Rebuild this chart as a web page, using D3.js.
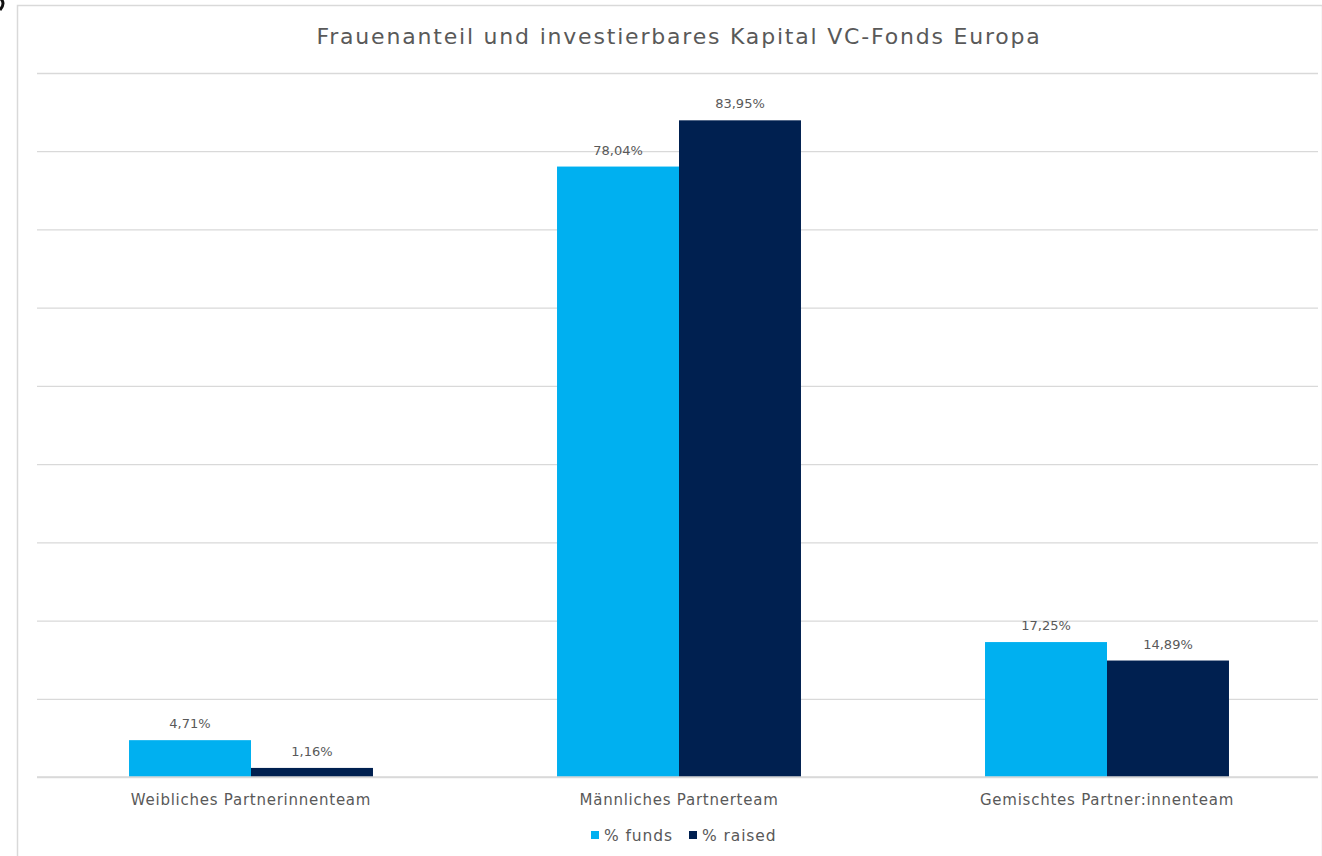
<!DOCTYPE html>
<html>
<head>
<meta charset="utf-8">
<script src="https://cdn.jsdelivr.net/npm/d3@7"></script>
<style>
  html, body { margin: 0; padding: 0; background: #ffffff; }
  svg { display: block; }
</style>
</head>
<body>
<script>
const title = "Frauenanteil und investierbares Kapital VC-Fonds Europa";
const categories = ["Weibliches Partnerinnenteam", "Männliches Partnerteam", "Gemischtes Partner:innenteam"];
const seriesNames = ["% funds", "% raised"];
const funds = [4.71, 78.04, 17.25];
const raised = [1.16, 83.95, 14.89];
const yTicks = [0, 10, 20, 30, 40, 50, 60, 70, 80, 90];
const colors = ["#00B0F0", "#002050"];

const W = 1322, H = 856;
const svg = d3.select("body").append("svg").attr("width", W).attr("height", H);

// chart frame
svg.append("rect").attr("x", 17.5).attr("y", 5.5).attr("width", W - 17).attr("height", H)
  .attr("fill", "#fff").attr("stroke", "#d9d9d9").attr("stroke-width", 1.5);

// small dark artifact at top-left corner
svg.append("path").attr("d", "M0,-2 Q6,3 0,10").attr("fill", "none").attr("stroke", "#111").attr("stroke-width", 3);

const font = "'DejaVu Sans', Verdana, sans-serif";
const textColor = "#595959";

svg.append("text").attr("x", 679).attr("y", 44).attr("text-anchor", "middle")
  .attr("font-family", font).attr("font-size", 22).attr("letter-spacing", 1.8)
  .attr("fill", textColor).text(title);

const x0 = d3.scaleBand().domain(categories).range([37, 1321]).padding(0);
const groupW = x0.bandwidth() * 0.57;
const x1 = d3.scaleBand().domain(seriesNames).range([0, groupW]).padding(0);
const y = d3.scaleLinear().domain([0, 90]).range([777, 73]);

// gridlines
const grid = d3.axisLeft(y).tickValues(yTicks).tickSize(-(1318 - 37)).tickFormat("");
const gg = svg.append("g").attr("transform", "translate(37,0)").call(grid);
gg.select(".domain").remove();
gg.selectAll(".tick line").attr("stroke", "#d9d9d9").attr("stroke-width", 1.3);

const data = categories.map((c, i) => ({ cat: c, vals: [funds[i], raised[i]] }));
const fmt = v => v.toFixed(2).replace(".", ",") + "%";

const groups = svg.selectAll("g.grp").data(data).enter().append("g").attr("class", "grp")
  .attr("transform", d => `translate(${x0(d.cat) + (x0.bandwidth() - groupW) / 2},0)`);

groups.selectAll("rect").data(d => d.vals.map((v, j) => ({ s: seriesNames[j], v, j })))
  .enter().append("rect")
  .attr("x", d => x1(d.s)).attr("width", x1.bandwidth())
  .attr("y", d => y(d.v)).attr("height", d => y(0) - y(d.v))
  .attr("fill", d => colors[d.j]);

groups.selectAll("text").data(d => d.vals.map((v, j) => ({ s: seriesNames[j], v, j })))
  .enter().append("text")
  .attr("x", d => x1(d.s) + x1.bandwidth() / 2).attr("y", d => y(d.v) - 12)
  .attr("text-anchor", "middle").attr("font-family", font).attr("font-size", 13)
  .attr("fill", textColor).text(d => fmt(d.v));

// x axis labels
const xa = svg.append("g").attr("transform", "translate(0,777)")
  .call(d3.axisBottom(x0).tickSize(0).tickPadding(17));
xa.select(".domain").attr("stroke", "#d9d9d9").attr("stroke-width", 1.3).attr("d", "M37,0H1318");
xa.selectAll("text").attr("font-family", font).attr("font-size", 15).attr("letter-spacing", 0.75)
  .attr("fill", textColor).attr("dy", "0.71em");

// legend
const legendItems = [{ name: seriesNames[0], x: 591, c: colors[0] }, { name: seriesNames[1], x: 689, c: colors[1] }];
const lg = svg.append("g");
legendItems.forEach(it => {
  lg.append("rect").attr("x", it.x).attr("y", 831).attr("width", 8).attr("height", 8).attr("fill", it.c);
  lg.append("text").attr("x", it.x + 13).attr("y", 841).attr("font-family", font).attr("font-size", 15.5)
    .attr("letter-spacing", 0.9).attr("fill", textColor).text(it.name);
});
</script>
</body>
</html>
